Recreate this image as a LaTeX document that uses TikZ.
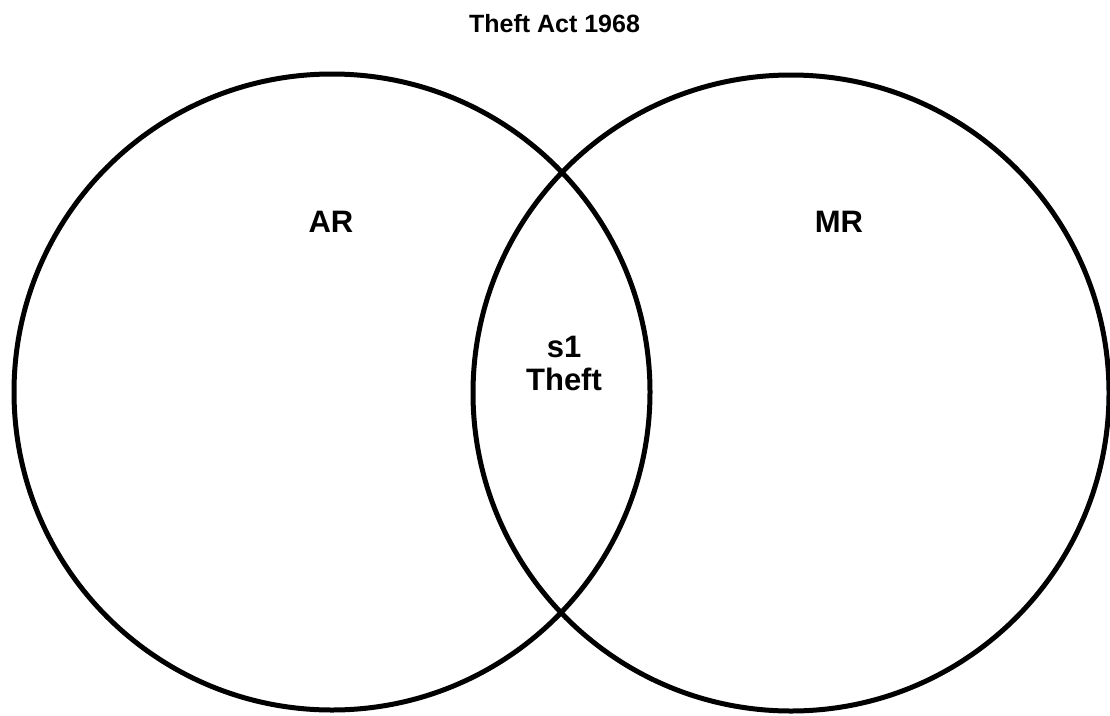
\documentclass[tikz,border=0pt]{standalone}
\usepackage{fontspec}
\setmainfont{Liberation Sans}
\begin{document}
\begin{tikzpicture}[x=1pt,y=-1pt,
  setcircle/.style={circle,draw=black,line width=5pt,minimum size=636pt,inner sep=0pt},
  lbl/.style={font=\fontsize{31}{33}\selectfont\bfseries,inner sep=0pt,align=center},
  ttl/.style={font=\fontsize{25}{29}\selectfont\bfseries,inner sep=0pt}]
\useasboundingbox (0,0) rectangle (1110,715);
\node[setcircle] (ar) at (332,392) {};
\node[setcircle] (mr) at (791,393) {};
\node[ttl] (title) at (554.5,24) {Theft Act 1968};
\node[lbl] (arlbl) at (331,222) {AR};
\node[lbl] (mrlbl) at (839,222) {MR};
\node[lbl] (s1) at (564,363) {s1\\Theft};
\end{tikzpicture}
\end{document}
